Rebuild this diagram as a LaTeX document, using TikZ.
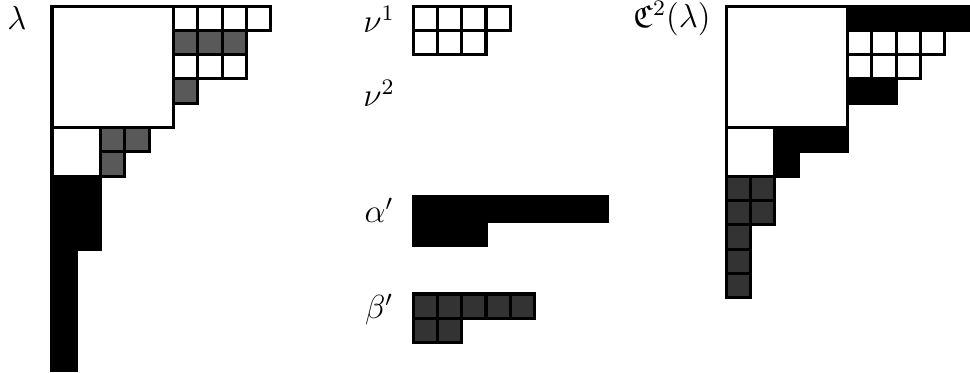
\documentclass[tikz,border=0pt]{standalone}
\usepackage{amsmath,amssymb}
\usepackage{tikz}
\usetikzlibrary{positioning}

\tikzset{
  wcell/.style={draw=black, line width=1.1pt, fill=white},
  gcell/.style={draw=black, line width=1.1pt, fill=black!65},
  dgcell/.style={draw=black, line width=1.1pt, fill=black!80},
  bcell/.style={draw=black, line width=1.1pt, fill=black},
  lbl/.style={font=\fontsize{11.5}{13}\selectfont}
}
% one row of unit cells: style, row, first column, last column
\newcommand{\cellrow}[4]{%
  \foreach \c in {#3,...,#4} \draw[#1] (\c,#2) rectangle ++(1,1);}

\begin{document}
\begin{tikzpicture}[x=8.75pt,y=-8.75pt]
\useasboundingbox (0,0) rectangle (39.92,15.35);
% lambda
\begin{scope}[shift={(2.14,0.25)}]
\draw[wcell] (0,0) rectangle (5,5);
\cellrow{wcell}{0}{5}{8}
\cellrow{gcell}{1}{5}{7}
\cellrow{wcell}{2}{5}{7}
\cellrow{gcell}{3}{5}{5}
\draw[wcell] (0,5) rectangle (2,7);
\cellrow{gcell}{5}{2}{3}
\cellrow{gcell}{6}{2}{2}
\draw[bcell] (0,7) -- (2,7) -- (2,10) -- (1,10) -- (1,15) -- (0,15) -- cycle;
\end{scope}
\node[lbl] (lam) at (0.7,0.72) {$\lambda$};
% nu^1, nu^2
\begin{scope}[shift={(17,0.25)}]
\cellrow{wcell}{0}{0}{3}
\cellrow{wcell}{1}{0}{2}
\end{scope}
\node[lbl] (nu1) at (15.6,0.8) {$\nu^1$};
\node[lbl] (nu2) at (15.6,3.85) {$\nu^2$};
% alpha'
\begin{scope}[shift={(17,8.1)}]
\draw[bcell] (0,0) -- (8,0) -- (8,1) -- (3,1) -- (3,2) -- (0,2) -- cycle;
\end{scope}
\node[lbl] (alp) at (15.6,8.65) {$\alpha'$};
% beta'
\begin{scope}[shift={(17,12.1)}]
\cellrow{dgcell}{0}{0}{4}
\cellrow{dgcell}{1}{0}{1}
\end{scope}
\node[lbl] (bet) at (15.6,12.75) {$\beta'$};
% C^2(lambda)
\begin{scope}[shift={(29.88,0.25)}]
\draw[wcell] (0,0) rectangle (5,5);
\draw[bcell] (5,0) rectangle (10,1);
\cellrow{wcell}{1}{5}{8}
\cellrow{wcell}{2}{5}{7}
\draw[bcell] (5,3) rectangle (7,4);
\draw[wcell] (0,5) rectangle (2,7);
\draw[bcell] (2,5) -- (5,5) -- (5,6) -- (3,6) -- (3,7) -- (2,7) -- cycle;
\cellrow{dgcell}{7}{0}{1}
\cellrow{dgcell}{8}{0}{1}
\cellrow{dgcell}{9}{0}{0}
\cellrow{dgcell}{10}{0}{0}
\cellrow{dgcell}{11}{0}{0}
\end{scope}
\node[lbl, anchor=east] (clam) at (29.65,0.78) {$\mathfrak{C}^2(\lambda)$};
\end{tikzpicture}
\end{document}
